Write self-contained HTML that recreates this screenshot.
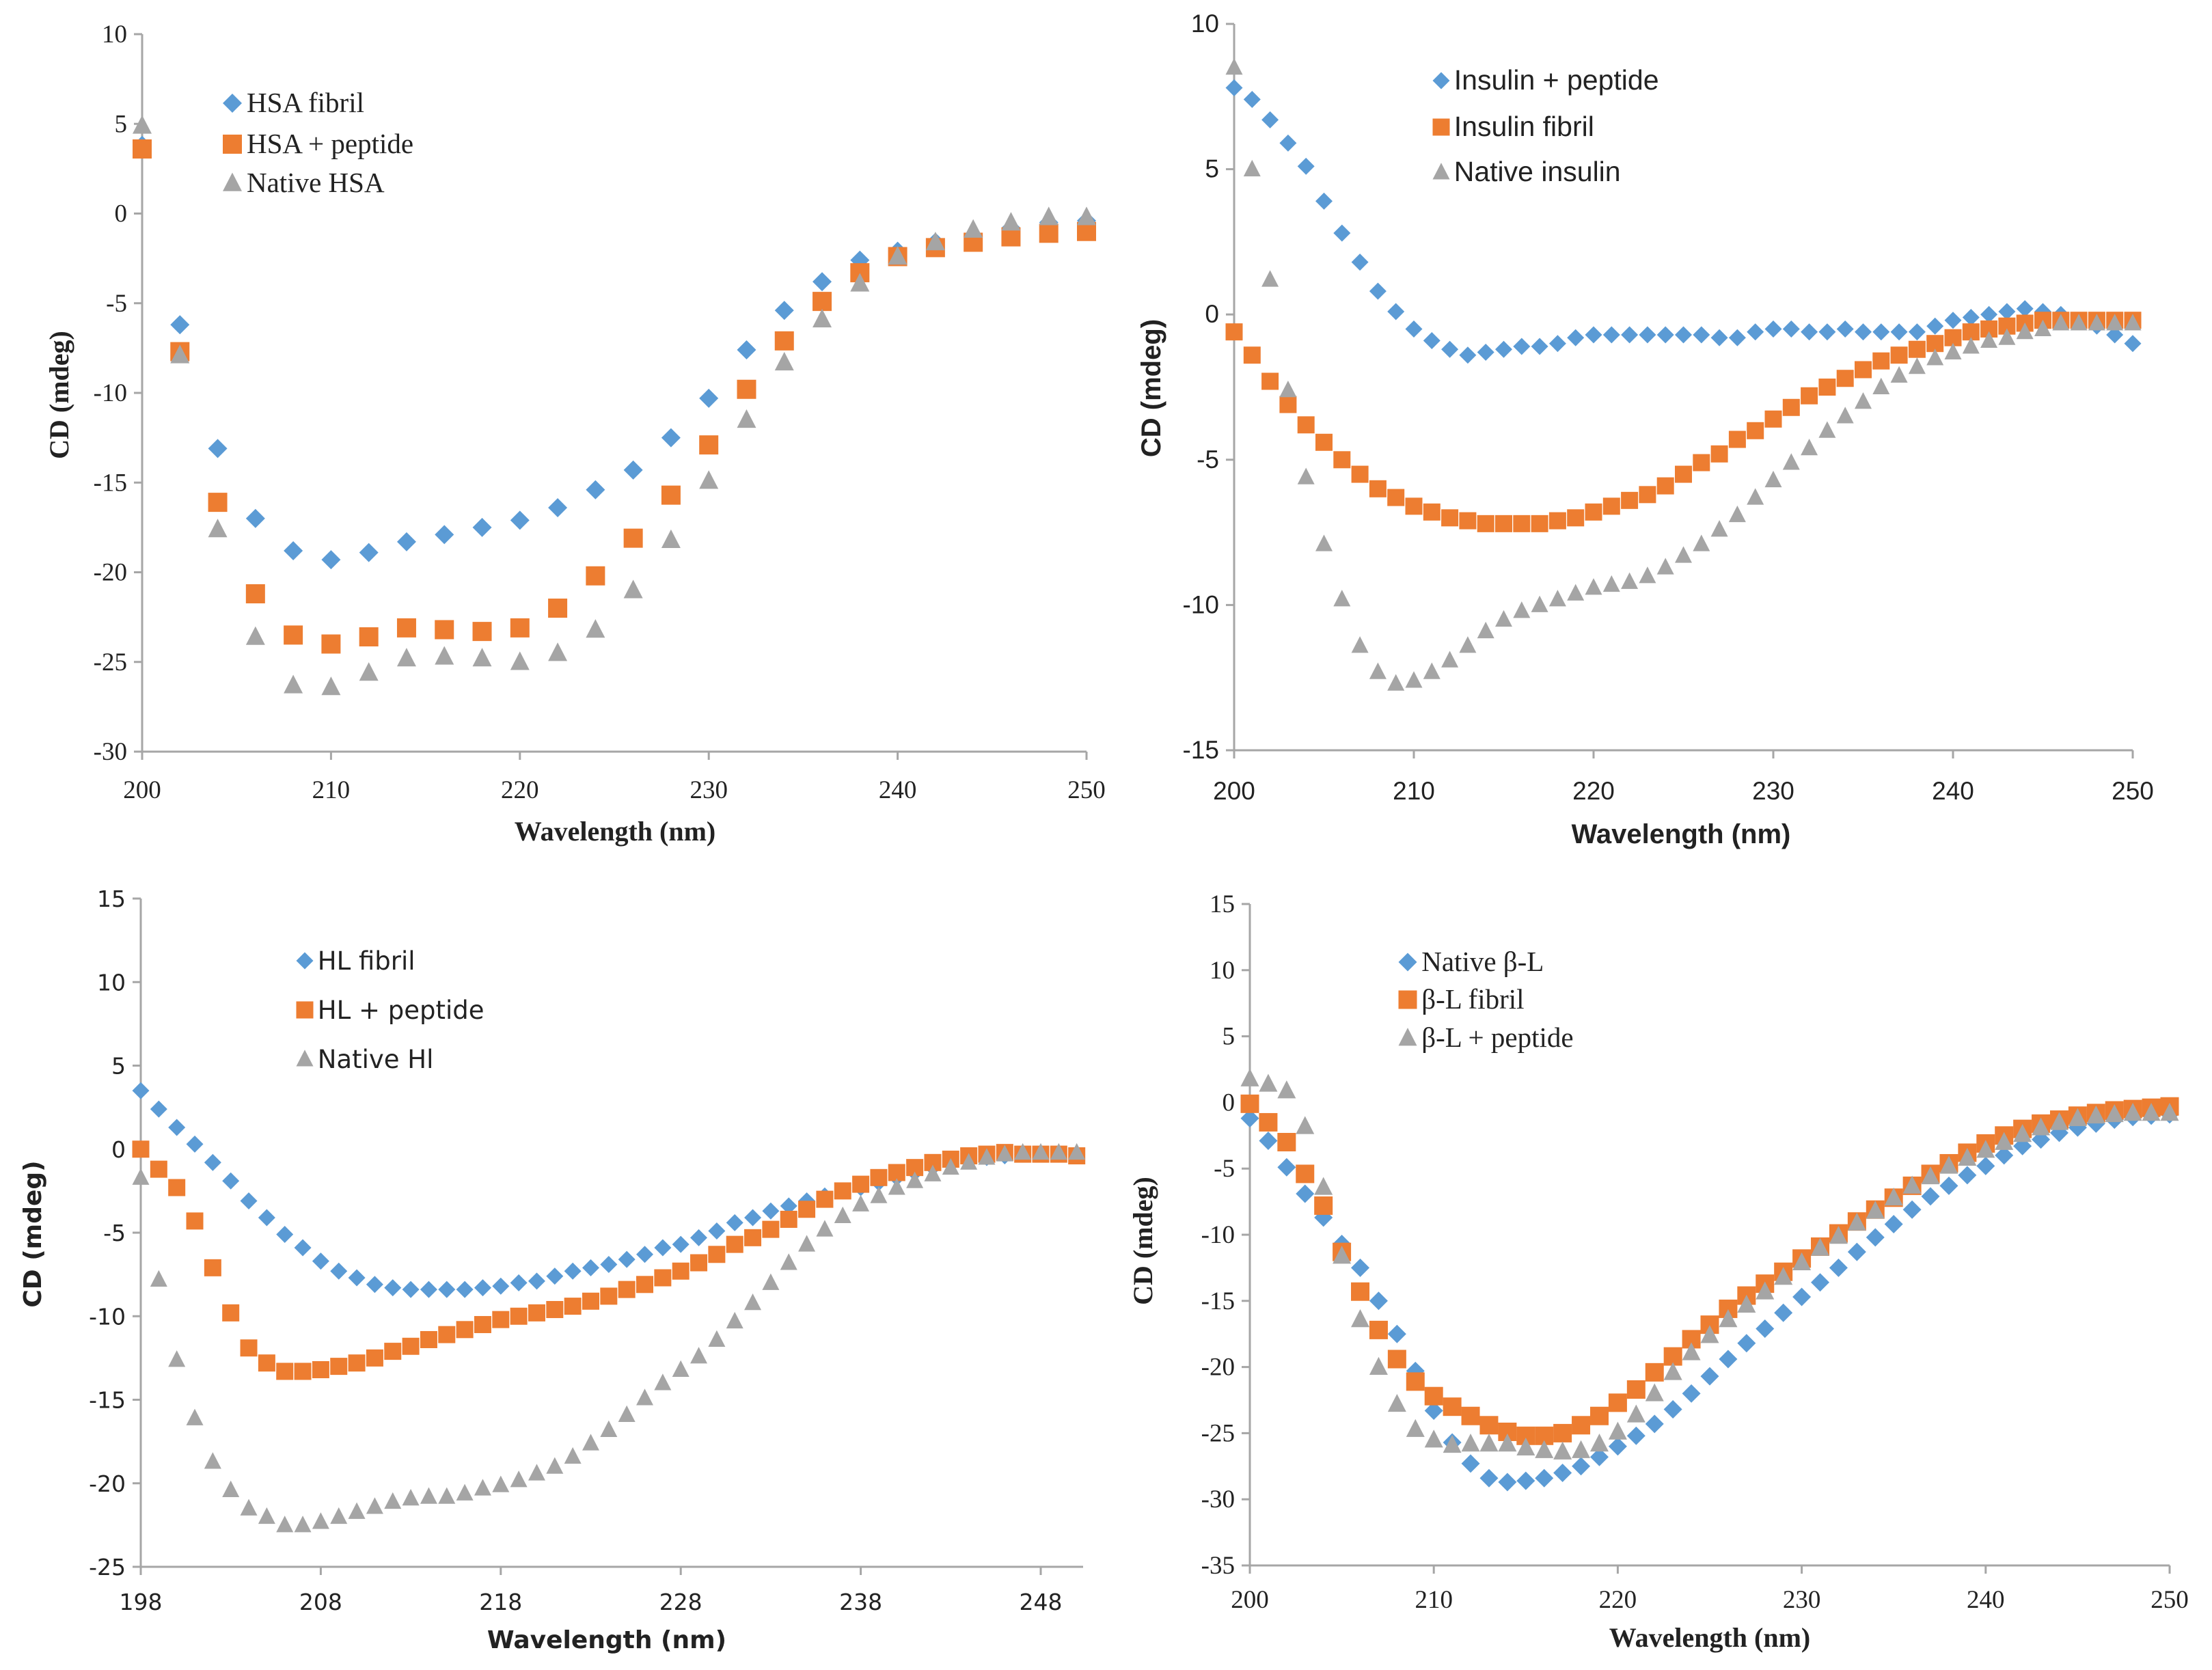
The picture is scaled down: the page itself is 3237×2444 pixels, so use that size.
<!DOCTYPE html>
<html><head><meta charset="utf-8"><style>
html,body{margin:0;padding:0;background:#fff;}
svg{display:block;}
</style></head><body>
<svg id="fig" xmlns="http://www.w3.org/2000/svg" width="3237" height="2444" viewBox="0 0 3237 2444"></svg>
<script>
// ---- Panel 1: HSA (every 2 nm) ----
const p1X = [200,202,204,206,208,210,212,214,216,218,220,222,224,226,228,230,232,234,236,238,240,242,244,246,248,250];
const p1Fibril = [3.8,-6.2,-13.1,-17,-18.8,-19.3,-18.9,-18.3,-17.9,-17.5,-17.1,-16.4,-15.4,-14.3,-12.5,-10.3,-7.6,-5.4,-3.8,-2.6,-2.1,-1.6,-1.3,-0.8,-0.5,-0.4];
const p1Peptide = [3.6,-7.7,-16.1,-21.2,-23.5,-24,-23.6,-23.1,-23.2,-23.3,-23.1,-22,-20.2,-18.1,-15.7,-12.9,-9.8,-7.1,-4.9,-3.3,-2.4,-1.9,-1.6,-1.3,-1.1,-1.0];
const p1Native = [4.9,-7.9,-17.6,-23.6,-26.3,-26.4,-25.6,-24.8,-24.7,-24.8,-25,-24.5,-23.2,-21,-18.2,-14.9,-11.5,-8.3,-5.9,-3.9,-2.4,-1.6,-0.9,-0.5,-0.2,-0.2];
const p1XTicks = [200,210,220,230,240,250];
const p1YTicks = [10,5,0,-5,-10,-15,-20,-25,-30];

// ---- Panel 2: Insulin (every 1 nm, 200-250) ----
const p2Peptide = [7.8,7.4,6.7,5.9,5.1,3.9,2.8,1.8,0.8,0.1,-0.5,-0.9,-1.2,-1.4,-1.3,-1.2,-1.1,-1.1,-1.0,-0.8,-0.7,-0.7,-0.7,-0.7,-0.7,-0.7,-0.7,-0.8,-0.8,-0.6,-0.5,-0.5,-0.6,-0.6,-0.5,-0.6,-0.6,-0.6,-0.6,-0.4,-0.2,-0.1,0,0.1,0.2,0.1,0,-0.2,-0.4,-0.7,-1.0];
const p2Fibril = [-0.6,-1.4,-2.3,-3.1,-3.8,-4.4,-5.0,-5.5,-6.0,-6.3,-6.6,-6.8,-7.0,-7.1,-7.2,-7.2,-7.2,-7.2,-7.1,-7.0,-6.8,-6.6,-6.4,-6.2,-5.9,-5.5,-5.1,-4.8,-4.3,-4.0,-3.6,-3.2,-2.8,-2.5,-2.2,-1.9,-1.6,-1.4,-1.2,-1.0,-0.8,-0.6,-0.5,-0.4,-0.3,-0.2,-0.2,-0.2,-0.2,-0.2,-0.2];
const p2Native = [8.5,5.0,1.2,-2.6,-5.6,-7.9,-9.8,-11.4,-12.3,-12.7,-12.6,-12.3,-11.9,-11.4,-10.9,-10.5,-10.2,-10.0,-9.8,-9.6,-9.4,-9.3,-9.2,-9.0,-8.7,-8.3,-7.9,-7.4,-6.9,-6.3,-5.7,-5.1,-4.6,-4.0,-3.5,-3.0,-2.5,-2.1,-1.8,-1.5,-1.3,-1.1,-0.9,-0.8,-0.6,-0.5,-0.3,-0.3,-0.3,-0.3,-0.3];
const p2XTicks = [200,210,220,230,240,250];
const p2YTicks = [10,5,0,-5,-10,-15];

// ---- Panel 3: HL (every 1 nm, 198-250) ----
const p3Fibril = [3.5,2.4,1.3,0.3,-0.8,-1.9,-3.1,-4.1,-5.1,-5.9,-6.7,-7.3,-7.7,-8.1,-8.3,-8.4,-8.4,-8.4,-8.4,-8.3,-8.2,-8.0,-7.9,-7.6,-7.3,-7.1,-6.9,-6.6,-6.3,-5.9,-5.7,-5.3,-4.9,-4.4,-4.1,-3.7,-3.4,-3.1,-2.8,-2.5,-2.3,-2.0,-1.7,-1.4,-1.1,-0.9,-0.7,-0.5,-0.4,-0.3,-0.3,-0.3,-0.3];
const p3Peptide = [0,-1.2,-2.3,-4.3,-7.1,-9.8,-11.9,-12.8,-13.3,-13.3,-13.2,-13.0,-12.8,-12.5,-12.1,-11.8,-11.4,-11.1,-10.8,-10.5,-10.2,-10.0,-9.8,-9.6,-9.4,-9.1,-8.8,-8.4,-8.1,-7.7,-7.3,-6.8,-6.3,-5.7,-5.3,-4.8,-4.2,-3.6,-3.0,-2.5,-2.1,-1.7,-1.4,-1.1,-0.8,-0.6,-0.4,-0.3,-0.2,-0.3,-0.3,-0.3,-0.4];
const p3Native = [-1.7,-7.8,-12.6,-16.1,-18.7,-20.4,-21.5,-22,-22.5,-22.5,-22.3,-22,-21.7,-21.4,-21.1,-20.9,-20.8,-20.8,-20.6,-20.3,-20.1,-19.8,-19.4,-19.0,-18.4,-17.6,-16.8,-15.9,-14.9,-14.0,-13.2,-12.4,-11.4,-10.3,-9.2,-8.0,-6.8,-5.7,-4.8,-4.0,-3.3,-2.8,-2.3,-1.9,-1.5,-1.1,-0.8,-0.5,-0.3,-0.2,-0.2,-0.2,-0.2];
const p3XTicks = [198,208,218,228,238,248];
const p3YTicks = [15,10,5,0,-5,-10,-15,-20,-25];

// ---- Panel 4: beta-L (every 1 nm, 200-250) ----
const p4Native = [-1.2,-2.9,-4.9,-6.9,-8.7,-10.7,-12.5,-15.0,-17.5,-20.3,-23.3,-25.7,-27.3,-28.4,-28.7,-28.6,-28.4,-28.0,-27.5,-26.8,-26.0,-25.2,-24.3,-23.2,-22.0,-20.7,-19.4,-18.2,-17.1,-15.9,-14.7,-13.6,-12.5,-11.3,-10.2,-9.2,-8.1,-7.1,-6.3,-5.5,-4.8,-4.0,-3.3,-2.8,-2.3,-1.9,-1.6,-1.3,-1.1,-1.0,-0.9];
const p4Fibril = [-0.1,-1.5,-3.0,-5.4,-7.8,-11.3,-14.3,-17.2,-19.4,-21.1,-22.2,-23.0,-23.7,-24.4,-24.9,-25.2,-25.2,-25.0,-24.4,-23.7,-22.7,-21.7,-20.4,-19.2,-17.9,-16.8,-15.6,-14.6,-13.7,-12.8,-11.8,-10.9,-9.9,-9.0,-8.1,-7.2,-6.3,-5.4,-4.6,-3.8,-3.1,-2.5,-2.0,-1.6,-1.3,-1.0,-0.8,-0.6,-0.5,-0.4,-0.3];
const p4Peptide = [1.8,1.4,0.9,-1.8,-6.4,-11.6,-16.4,-20.0,-22.8,-24.7,-25.5,-25.9,-25.8,-25.8,-25.8,-26.1,-26.3,-26.4,-26.3,-25.8,-24.9,-23.6,-22.0,-20.4,-18.9,-17.6,-16.4,-15.3,-14.3,-13.2,-12.1,-11.0,-10.1,-9.1,-8.2,-7.2,-6.3,-5.6,-4.8,-4.2,-3.6,-3.0,-2.4,-1.9,-1.5,-1.2,-1.0,-0.9,-0.8,-0.8,-0.8];
const p4XTicks = [200,210,220,230,240,250];
const p4YTicks = [15,10,5,0,-5,-10,-15,-20,-25,-30,-35];

const NS='http://www.w3.org/2000/svg';
const svg=document.getElementById('fig');
const BLUE='#5B9BD5', ORANGE='#ED7D31', GREY='#A5A5A5';
const SERIF='"Liberation Serif", serif', SANS='"Liberation Sans", sans-serif', DJ='"DejaVu Sans", sans-serif';

function mk(tag, attrs, parent){
  const e=document.createElementNS(NS,tag);
  for(const k in attrs) e.setAttribute(k,attrs[k]);
  (parent||svg).appendChild(e);
  return e;
}
function seq(a,b){const r=[];for(let i=a;i<=b;i++)r.push(i);return r;}

function marker(g, shape, cx, cy, s, color){
  let e;
  if(shape==='diamond'){
    e=mk('polygon',{points:`${cx},${cy-s/2} ${cx+s/2},${cy} ${cx},${cy+s/2} ${cx-s/2},${cy}`,fill:color},g);
  } else if(shape==='square'){
    e=mk('rect',{x:cx-s/2,y:cy-s/2,width:s,height:s,fill:color},g);
  } else {
    e=mk('polygon',{points:`${cx},${cy-s*0.55} ${cx+s/2},${cy+s*0.42} ${cx-s/2},${cy+s*0.42}`,fill:color},g);
  }
  return e;
}

function panel(cfg){
  const g=mk('g',{});
  
  
  const xs=v=>cfg.px0+(v-cfg.x0)/(cfg.x1-cfg.x0)*(cfg.px1-cfg.px0);
  const ys=v=>cfg.py0+(cfg.y0-v)/(cfg.y0-cfg.y1)*(cfg.py1-cfg.py0);
  const ax='#a6a6a6';
  const yAxis=mk('line',{x1:cfg.px0,y1:ys(cfg.y0),x2:cfg.px0,y2:ys(cfg.y1),stroke:ax,'stroke-width':3},g);
  
  
  const xAxis=mk('line',{x1:cfg.px0,y1:ys(cfg.y1),x2:cfg.axEnd,y2:ys(cfg.y1),stroke:ax,'stroke-width':3},g);
  
  
  cfg.yTicks.forEach(t=>{
    mk('line',{x1:cfg.px0-12,y1:ys(t),x2:cfg.px0,y2:ys(t),stroke:ax,'stroke-width':3},g);
    const tx=mk('text',{x:cfg.px0-22,y:ys(t)+12,'text-anchor':'end','font-family':cfg.font,'font-size':cfg.fs,fill:'#222'},g);
    tx.textContent=t;
    
    
  });
  cfg.xTicks.forEach(t=>{
    mk('line',{x1:xs(t),y1:ys(cfg.y1),x2:xs(t),y2:ys(cfg.y1)+12,stroke:ax,'stroke-width':3},g);
    const tx=mk('text',{x:xs(t),y:cfg.xLabY,'text-anchor':'middle','font-family':cfg.font,'font-size':cfg.fs,fill:'#222'},g);
    tx.textContent=t;
    
    
  });
  const xt=mk('text',{x:cfg.xtX,y:cfg.xtY,'text-anchor':'middle','font-family':cfg.font,'font-size':cfg.fs+3,'font-weight':'bold',fill:'#222'},g);
  xt.textContent='Wavelength (nm)';
  
  
  const yt=mk('text',{x:0,y:0,transform:`translate(${cfg.ytX},${cfg.ytY}) rotate(-90)`,'text-anchor':'middle','font-family':cfg.font,'font-size':cfg.fs+3,'font-weight':'bold',fill:'#222'},g);
  yt.textContent='CD (mdeg)';
  
  
  cfg.series.forEach((s,si)=>{
    const sg=mk('g',{},g);
    
    
    s.vals.forEach((v,i)=>{
      const m=marker(sg,s.shape,xs(cfg.xVals[i]),ys(v),cfg.ms,s.color);
      
      
    });
    const lg=mk('g',{},g);
    
    
    const ly=cfg.legY[si];
    marker(lg,s.shape,cfg.legX,ly,cfg.ms,s.color);
    const lt=mk('text',{x:cfg.legX+cfg.ms*0.75,y:ly+13,'font-family':cfg.font,'font-size':cfg.fs+4,fill:'#222'},lg);
    lt.textContent=s.label;
  });
}

panel({name:'hsa-chart',font:SERIF,fs:37,x0:200,x1:250,px0:208,px1:1590,y0:10,y1:-30,py0:50,py1:1100,axEnd:1590,
  xVals:p1X,xTicks:p1XTicks,yTicks:p1YTicks,xLabY:1168,xtX:900,xtY:1230,ytX:100,ytY:578,ms:28,
  legX:340,legY:[151,211,268],
  series:[{key:'hsa-fibril',label:'HSA fibril',vals:p1Fibril,shape:'diamond',color:BLUE},
          {key:'hsa-peptide',label:'HSA + peptide',vals:p1Peptide,shape:'square',color:ORANGE},
          {key:'native-hsa',label:'Native HSA',vals:p1Native,shape:'triangle',color:GREY}]});

panel({name:'insulin-chart',font:SANS,fs:37,x0:200,x1:250,px0:1806,px1:3121,y0:10,y1:-15,py0:35,py1:1098,axEnd:3121,
  xVals:seq(200,250),xTicks:p2XTicks,yTicks:p2YTicks,xLabY:1170,xtX:2460,xtY:1234,ytX:1698,ytY:568,ms:25,
  legX:2109,legY:[118,186,252],
  series:[{key:'insulin-peptide',label:'Insulin + peptide',vals:p2Peptide,shape:'diamond',color:BLUE},
          {key:'insulin-fibril',label:'Insulin fibril',vals:p2Fibril,shape:'square',color:ORANGE},
          {key:'native-insulin',label:'Native insulin',vals:p2Native,shape:'triangle',color:GREY}]});

panel({name:'hl-chart',font:DJ,fs:33,x0:198,x1:248,px0:206,px1:1523,y0:15,y1:-25,py0:1315,py1:2293,axEnd:1585,
  xVals:seq(198,250),xTicks:p3XTicks,yTicks:p3YTicks,xLabY:2356,xtX:888,xtY:2412,ytX:60,ytY:1806,ms:25,
  legX:446,legY:[1406,1478,1550],
  series:[{key:'hl-fibril',label:'HL fibril',vals:p3Fibril,shape:'diamond',color:BLUE},
          {key:'hl-peptide',label:'HL + peptide',vals:p3Peptide,shape:'square',color:ORANGE},
          {key:'native-hl',label:'Native Hl',vals:p3Native,shape:'triangle',color:GREY}]});

panel({name:'beta-l-chart',font:SERIF,fs:37,x0:200,x1:250,px0:1829,px1:3175,y0:15,y1:-35,py0:1323,py1:2291,axEnd:3175,
  xVals:seq(200,250),xTicks:p4XTicks,yTicks:p4YTicks,xLabY:2353,xtX:2502,xtY:2410,ytX:1686,ytY:1816,ms:27,
  legX:2060,legY:[1408,1463,1519],
  series:[{key:'native-beta-l',label:'Native β-L',vals:p4Native,shape:'diamond',color:BLUE},
          {key:'beta-l-fibril',label:'β-L fibril',vals:p4Fibril,shape:'square',color:ORANGE},
          {key:'beta-l-peptide',label:'β-L + peptide',vals:p4Peptide,shape:'triangle',color:GREY}]});
</script>
</body></html>
